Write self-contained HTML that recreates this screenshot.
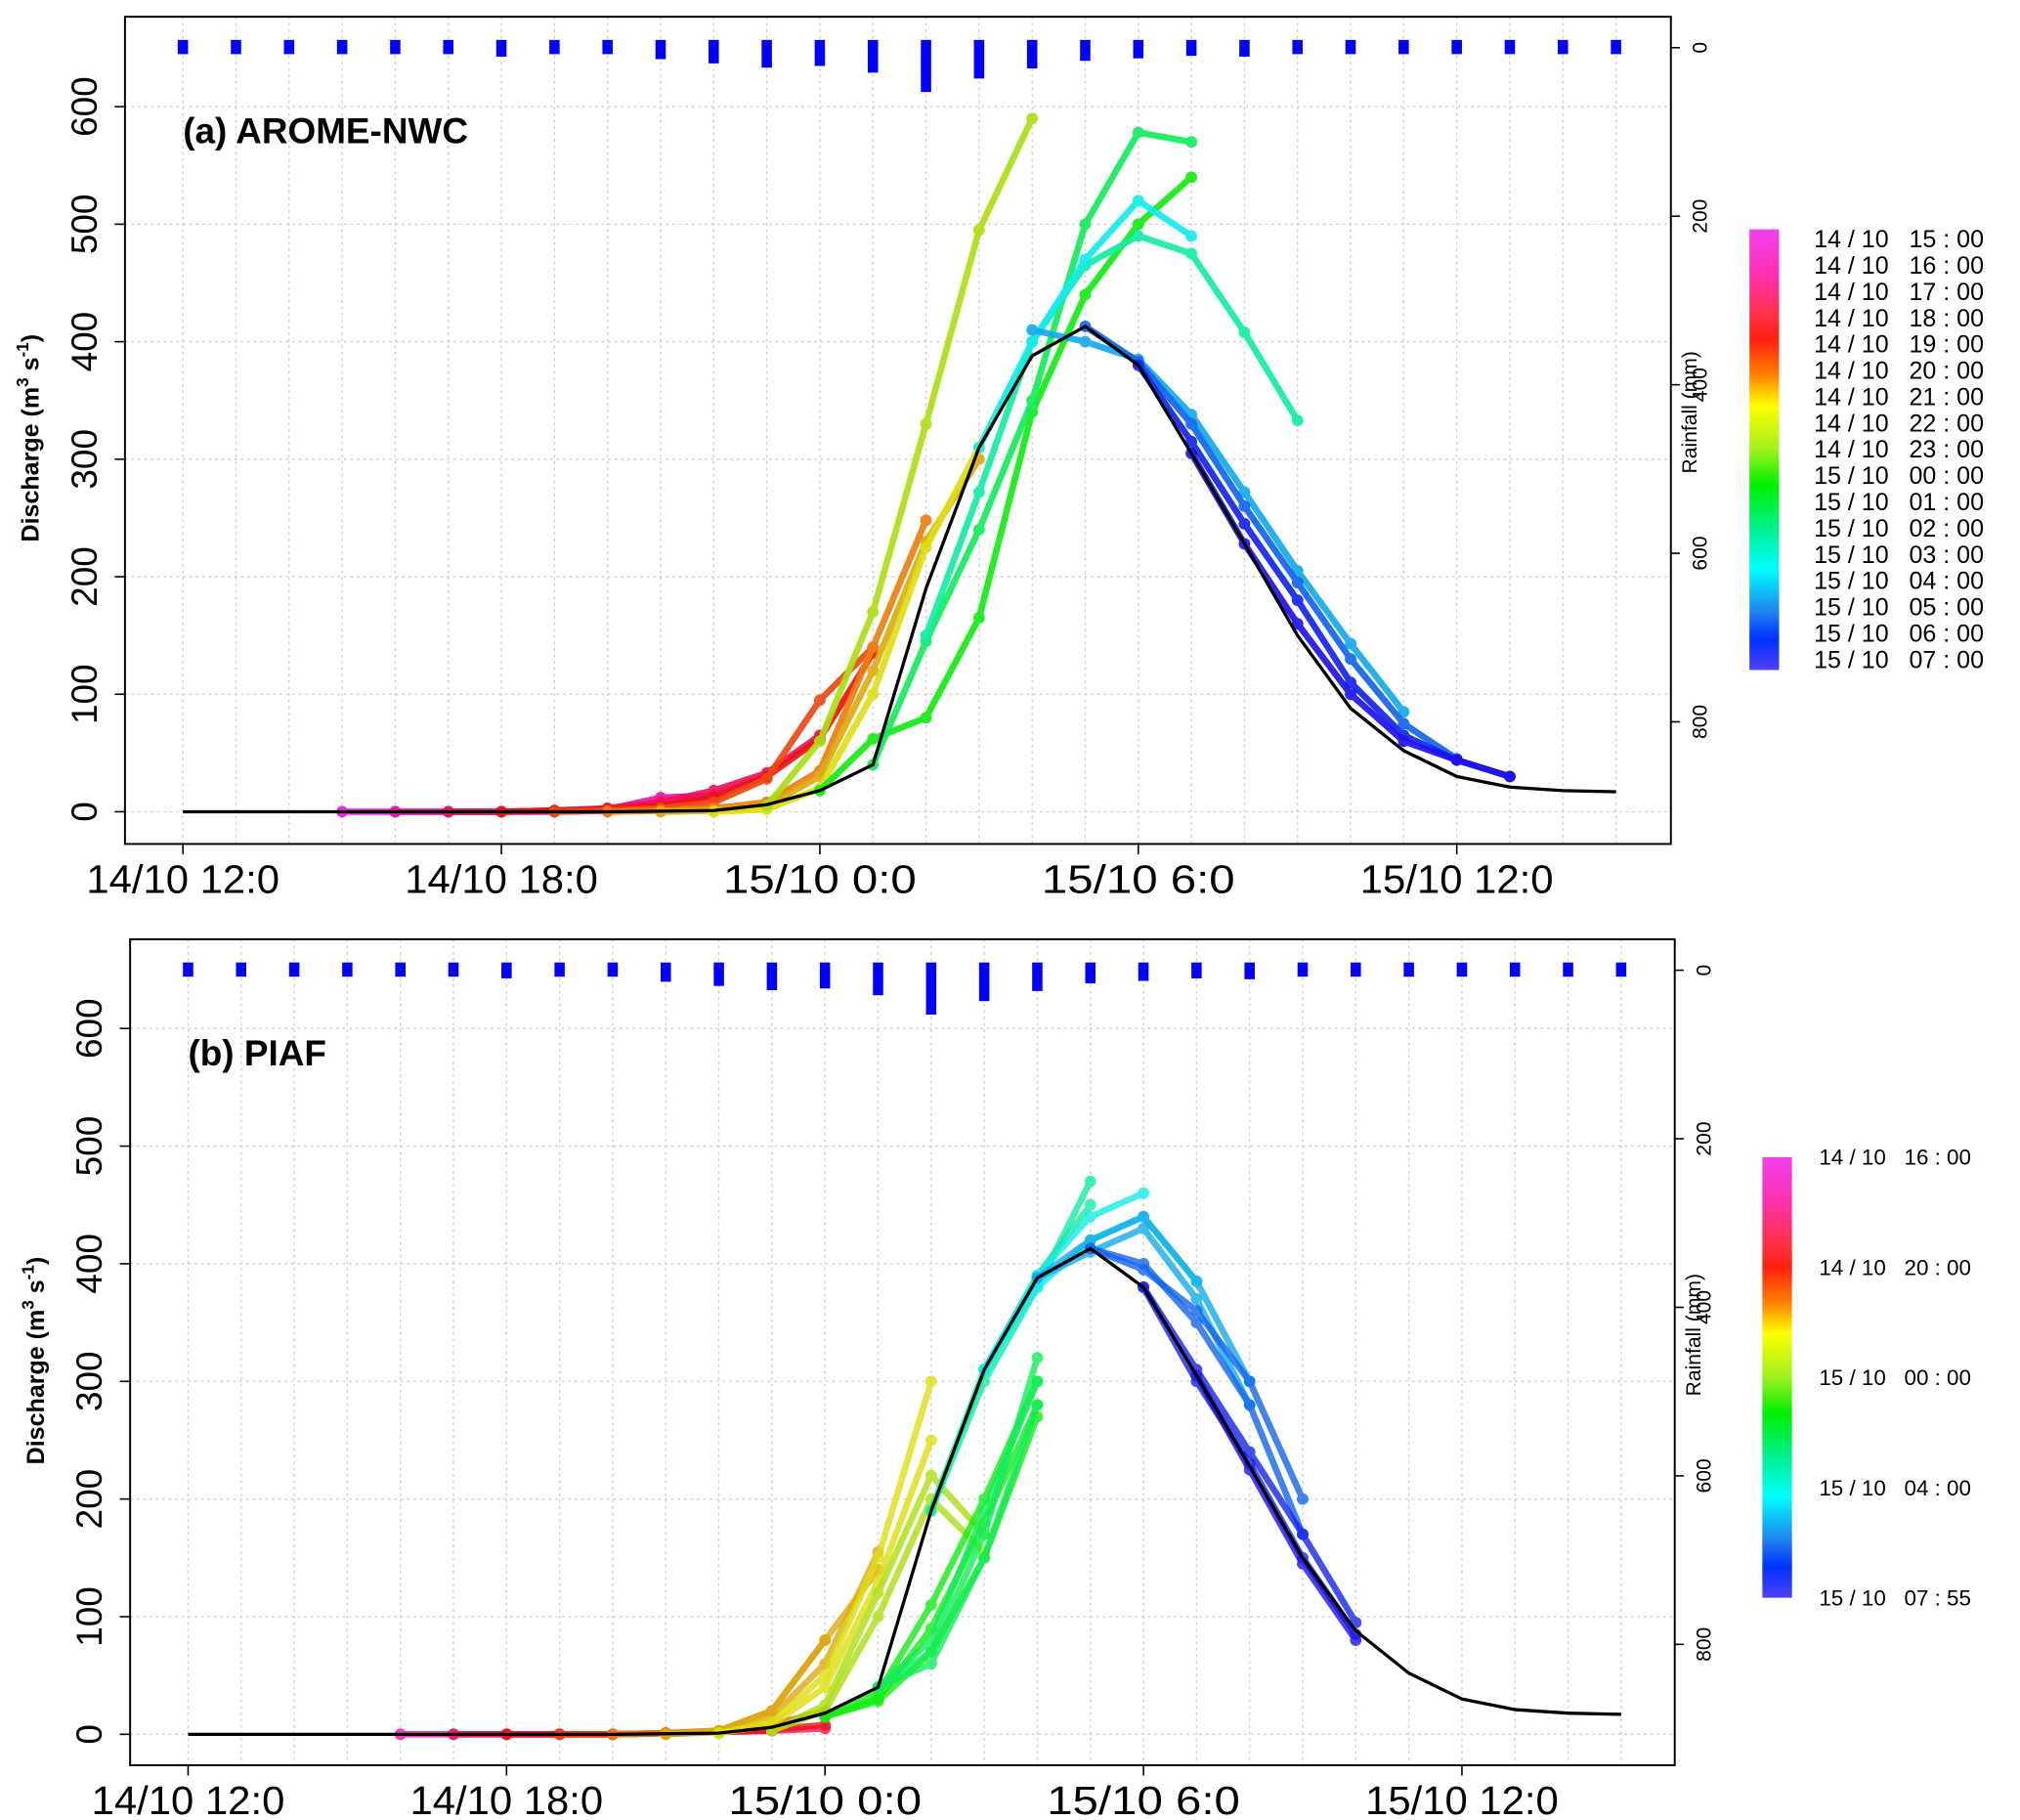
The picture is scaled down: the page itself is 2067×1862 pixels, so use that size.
<!DOCTYPE html>
<html><head><meta charset="utf-8"><style>
html,body{margin:0;padding:0;background:#fff;}
svg{display:block;font-family:"Liberation Sans",sans-serif;}
text{white-space:pre;}
</style></head><body>
<svg id="chart" width="2067" height="1862" viewBox="0 0 1568 1412.5" preserveAspectRatio="none" xmlns="http://www.w3.org/2000/svg">
<defs>
<linearGradient id="cb" x1="0" y1="0" x2="0" y2="1">
<stop offset="0" stop-color="#f040f0"/><stop offset="0.1" stop-color="#ff30b0"/><stop offset="0.2" stop-color="#ff3040"/><stop offset="0.25" stop-color="#ff2010"/><stop offset="0.33" stop-color="#ff8000"/><stop offset="0.4" stop-color="#ffff00"/><stop offset="0.5" stop-color="#a0f020"/><stop offset="0.58" stop-color="#00f000"/><stop offset="0.68" stop-color="#00f090"/><stop offset="0.77" stop-color="#00ffff"/><stop offset="0.87" stop-color="#2080f0"/><stop offset="0.93" stop-color="#0030ff"/><stop offset="1" stop-color="#5040f0"/>
</linearGradient>
</defs>
<g id="root"></g>
</svg>
<script>
// hours measured from 14/10 00:00 (12 = 14/10 12:00, 24 = 15/10 00:00)
const obsHours = [12,13,14,15,16,17,18,19,20,21,22,23,24,25,26,27,28,29,30,31,32,33,34,35,36,37,38,39];
const obsValues = [0,0,0,0,0,0,0,0,0,0.5,1,6,18,40,190,310,388,413,380,305,228,150,88,52,30,21,18,17];
const rainHours = [12,13,14,15,16,17,18,19,20,21,22,23,24,25,26,27,28,29,30,31,32,33,34,35,36,37,38,39];
const rainValues = [0,0,0,0,0,0,3,0,0,6,11,16,14,22,45,29,17,8,5,2,3,0,0,0,0,0,0,0];
const rainValuesB = [0,0,0,0,0,0,2,0,0,6,11,16,14,22,45,29,17,8,5,2,3,0,0,0,0,0,0,0];
const yTicks = [0,100,200,300,400,500,600];
const rainTicks = [0,200,400,600,800];
const xTickHours = [12,18,24,30,36];
const xTickLabels = ["14/10 12:0","14/10 18:0","15/10 0:0","15/10 6:0","15/10 12:0"];

// Panel (a) AROME-NWC forecasts: issue hour + hourly values
const aIssue = [15,16,17,18,19,20,21,22,23,24,25,26,27,28,29,30,31];
const aValues = [
 [0,0,0,0,0,1,5,12],
 [0,0,0,1,2,12,14,30],
 [0,0,1,3,8,18,33,65],
 [0,1,2,5,12,30,62,135],
 [0,1,3,8,28,95,140],
 [0,1,3,8,35,140,248],
 [0,1,5,30,120,230,300],
 [0,2,20,100,225,310],
 [5,60,170,330,495,590],
 [18,62,80,165,340,440,500,540],
 [40,145,240,350,500,578,570],
 [150,272,400,465,490,475,408,333],
 [310,400,470,520,490],
 [410,400,385,338,272,205,143,85],
 [413,383,330,260,195,130,75,45],
 [380,315,245,180,110,65,44,30],
 [305,228,160,100,60,44,30]
];
const aLegend = ["14 / 10   15 : 00","14 / 10   16 : 00","14 / 10   17 : 00","14 / 10   18 : 00","14 / 10   19 : 00","14 / 10   20 : 00","14 / 10   21 : 00","14 / 10   22 : 00","14 / 10   23 : 00","15 / 10   00 : 00","15 / 10   01 : 00","15 / 10   02 : 00","15 / 10   03 : 00","15 / 10   04 : 00","15 / 10   05 : 00","15 / 10   06 : 00","15 / 10   07 : 00"];

// Panel (b) PIAF forecasts
const bIssue = [16,17,18,19,20,21,21,22,22,23,23,24,24,24,25,25,25,26,26,27,27,28,28,29,29,30,30,31];
const bValues = [
 [0,0,0,0,0,1,2,3],
 [0,0,0,0,1,2,3,5],
 [0,0,0,1,2,4,8],
 [0,0,1,3,8,20],
 [0,1,3,20,80],
 [0,2,15,60,155],
 [0,3,20,80,140],
 [1,10,50,150,300],
 [1,8,40,130,250],
 [3,20,100,200,155],
 [3,25,120,220,170],
 [15,30,90,180,280],
 [15,35,110,200,300],
 [15,28,70,150,270],
 [40,70,170,320],
 [40,80,190,300],
 [40,60,150,280],
 [190,300,380,470],
 [190,310,390,450],
 [310,390,440,460],
 [310,380,420,440,385],
 [388,420,440,385,300],
 [388,410,430,370,280],
 [413,395,360,300,200],
 [413,400,350,280,170],
 [380,310,240,170,95],
 [380,300,230,150,85],
 [305,225,145,80]
];
const bLegend = ["14 / 10   16 : 00","14 / 10   20 : 00","15 / 10   00 : 00","15 / 10   04 : 00","15 / 10   07 : 55"];
const bLegendPos = [0,0.25,0.5,0.75,1];

const NS="http://www.w3.org/2000/svg";
const root=document.getElementById('root');
function mk(tag,attrs,parent){const e=document.createElementNS(NS,tag);for(const k in attrs)e.setAttribute(k,attrs[k]);(parent||root).appendChild(e);return e;}
function hueColor(h){
  const stops=[[15,300],[18,360],[21,405],[22,420],[23,435],[24,480],[27,540],[30,595],[32,610]];
  let hue=stops[stops.length-1][1];
  for(let i=0;i<stops.length-1;i++){if(h>=stops[i][0]&&h<=stops[i+1][0]){const t=(h-stops[i][0])/(stops[i+1][0]-stops[i][0]);hue=stops[i][1]+t*(stops[i+1][1]-stops[i][1]);break;}}
  hue=hue%360; let l=50; if(hue>40&&hue<80)l=47;
  return `hsl(${hue.toFixed(0)},85%,${l}%)`;
}

function panel(P){
  const g=mk('g',{});
  
  
  const X=h=>P.x12+(h-12)*P.xs;
  const Y=v=>P.y0-v*P.ys;
  const R=v=>P.r0+v*P.rs;
  for(let h=12;h<=39;h++){const l=mk('line',{x1:X(h),x2:X(h),y1:P.top,y2:P.bot,stroke:'#ccc','stroke-width':1,'stroke-dasharray':'2,3'},g);
    }
  yTicks.forEach(v=>{const l=mk('line',{x1:P.left,x2:P.right,y1:Y(v),y2:Y(v),stroke:'#ccc','stroke-width':1,'stroke-dasharray':'2,3'},g);
    });
  const b=mk('rect',{x:P.left,y:P.top,width:P.right-P.left,height:P.bot-P.top,fill:'none',stroke:'#000','stroke-width':1.5},g);
  
  yTicks.forEach(v=>{mk('line',{x1:P.left-8,x2:P.left,y1:Y(v),y2:Y(v),stroke:'#000','stroke-width':1.2},g);
    const t=mk('text',{x:0,y:0,transform:`translate(${P.left-22},${Y(v)}) rotate(-90)`,'text-anchor':'middle','font-size':28},g);
    t.textContent=v;});
  xTickHours.forEach((h,i)=>{mk('line',{x1:X(h),x2:X(h),y1:P.bot,y2:P.bot+8,stroke:'#000','stroke-width':1.2},g);
    const t=mk('text',{x:X(h),y:P.bot+38,'text-anchor':'middle','font-size':31,textLength:150,lengthAdjust:'spacingAndGlyphs'},g);
    t.textContent=xTickLabels[i];});
  rainTicks.forEach(v=>{mk('line',{x1:P.right,x2:P.right+7,y1:R(v),y2:R(v),stroke:'#000','stroke-width':1.2},g);
    const t=mk('text',{x:0,y:0,transform:`translate(${P.right+28},${R(v)}) rotate(-90)`,'text-anchor':'middle','font-size':16},g);
    t.textContent=v;});
  const rt=mk('text',{x:0,y:0,transform:`translate(${P.right+20},${P.r0+283}) rotate(-90)`,'text-anchor':'middle','font-size':16},g);
  rt.textContent='Rainfall (mm)';
  const yt=mk('text',{x:0,y:0,transform:`translate(${P.left-67},${P.y0-290}) rotate(-90)`,'text-anchor':'middle','font-size':19,'font-weight':'bold'},g);
  yt.innerHTML='Discharge (m<tspan dy="-8" font-size="13">3</tspan><tspan dy="8"> s</tspan><tspan dy="-8" font-size="13">-1</tspan><tspan dy="8">)</tspan>';
  
  P.rain.forEach((v,i)=>{const x=X(rainHours[i]);const r=mk('rect',{x:x-4,y:P.r0-6,width:8,height:11+v*P.rs,fill:'#0000ff'},g);
    });
  P.issue.forEach((h0,si)=>{const vals=P.vals[si];const col=hueColor(h0);
    const sg=mk('g',{opacity:P.op},g);
    const pts=vals.map((v,k)=>X(h0+k)+','+Y(v)).join(' ');
    mk('polyline',{points:pts,fill:'none',stroke:col,'stroke-width':5,'stroke-linejoin':'round'},sg);
    vals.forEach((v,k)=>{const c=mk('circle',{cx:X(h0+k),cy:Y(v),r:4.5,fill:col},sg);
      });
  });
  const ob=mk('polyline',{points:obsHours.map((h,i)=>X(h)+','+Y(obsValues[i])).join(' '),fill:'none',stroke:'#000','stroke-width':2.5},g);
  
  const tt=mk('text',{x:P.left+45,y:P.top+98,'font-size':28,'font-weight':'bold'},g);
  tt.textContent=P.title;
  const cb=mk('rect',{x:P.cbx,y:P.cby,width:23,height:P.cbh,fill:'url(#cb)'},g);
  
  P.legend.forEach((s,i)=>{const y=P.legPos?P.cby+P.legPos[i]*P.cbh+6:P.cby+14+i*20.4;
    const t=mk('text',{x:P.cbx+P.lx,y:y,'font-size':P.lfs},g);
    t.textContent=s;});
}
panel({name:'panel-a-arome-nwc',title:'(a) AROME-NWC',left:97,right:1297,top:13,bot:655,x12:142,xs:41.2,y0:630,ys:0.912,r0:37,rs:0.654,
  rain:rainValues,issue:aIssue,vals:aValues,op:0.92,cbx:1358,cby:178,cbh:342,legend:aLegend,lx:50,lfs:19});
panel({name:'panel-b-piaf',title:'(b) PIAF',left:101,right:1300,top:729,bot:1370,x12:146,xs:41.2,y0:1346,ys:0.913,r0:753,rs:0.654,
  rain:rainValuesB,issue:bIssue,vals:bValues,op:0.8,cbx:1368,cby:898,cbh:342,legend:bLegend,legPos:bLegendPos,lx:44,lfs:17});
</script>
</body></html>
